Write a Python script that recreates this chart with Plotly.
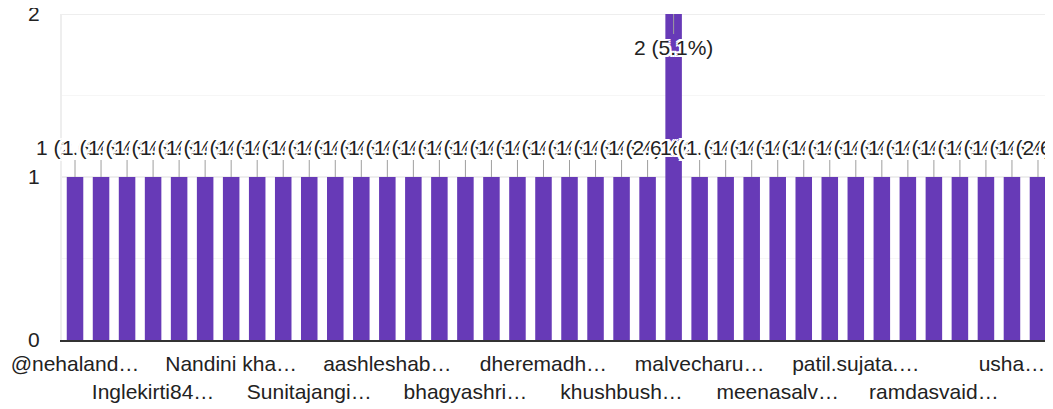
import plotly.graph_objects as go

categories = [
    "@nehaland…", "Ashwini P…", "Deepali M…", "Inglekirti84…", "Jyoti S…",
    "Kavita R…", "Nandini kha…", "Pooja D…", "Rupali G…", "Sunitajangi…",
    "Swati K…", "Vaishali T…", "aashleshab…", "anjali.p…", "archana…",
    "bhagyashri…", "chaitali…", "deepa.m…", "dheremadh…", "gauri.s…",
    "jadhav.r…", "khushbush…", "kirti.p…", "madhuri…", "malvecharu…",
    "manisha…", "mayuri…", "meenasalv…", "neha.k…", "pallavi…",
    "patil.sujata.…", "pradnya…", "priya…", "ramdasvaid…", "sarika…",
    "shital…", "usha…", "vrushali…",
]
counts = [1] * 23 + [2] + [1] * 14
y_ticks = [0, 1, 2]

total = sum(counts)
labels = [f"{v} ({v / total * 100:.1f}%)" for v in counts]

FONT = "Arial, 'Liberation Sans', sans-serif"
PURPLE = "#673ab7"
TXT = "#222222"
FS = 21

fig = go.Figure(
    go.Bar(
        x=categories,
        y=counts,
        marker=dict(color=PURPLE, line=dict(width=0)),
        hoverinfo="skip",
    )
)

halo = ", ".join(
    f"{dx}px {dy}px 0 #fff"
    for dx, dy in [(-2, -2), (-2, 0), (-2, 2), (0, -2), (0, 2), (2, -2), (2, 0), (2, 2)]
)

ymax = max(y_ticks)

# top gridline (Plotly drops the grid line sitting on the range edge)
fig.add_shape(
    type="line", xref="paper", x0=0, x1=1, yref="y", y0=ymax, y1=ymax,
    line=dict(color="#eeeeee", width=2), layer="below",
)

for c, v, t in zip(categories, counts, labels):
    down = v >= ymax
    fig.add_annotation(
        x=c, y=v, text=t, showarrow=True, arrowhead=0, arrowwidth=1,
        arrowcolor="#9e9e9e", standoff=0, ax=0, ay=33 if down else -30,
        font=dict(family=FONT, size=FS, color=TXT, shadow=halo),
    )

tick_idx = list(range(0, len(categories), 3))
tick_text = [("<br>" if (k % 2) else "") + categories[i] for k, i in enumerate(tick_idx)]

fig.update_layout(
    width=1045, height=401,
    margin=dict(l=54, r=2, t=6, b=69),
    paper_bgcolor="white", plot_bgcolor="white",
    bargap=0.365,
    showlegend=False,
    font=dict(family=FONT, size=FS, color=TXT),
    xaxis=dict(
        type="category",
        range=[-0.5, len(categories) - 0.5],
        tickmode="array",
        tickvals=[categories[i] for i in tick_idx],
        ticktext=tick_text,
        tickangle=0,
        showgrid=False,
        showline=True, linecolor="#333333", linewidth=2,
        ticks="outside", ticklen=4, tickcolor="rgba(0,0,0,0)",
        automargin=False, ticklabeloverflow="allow",
        tickfont=dict(family=FONT, size=FS, color=TXT),
    ),
    yaxis=dict(
        range=[0, ymax],
        tickmode="array", tickvals=y_ticks,
        showgrid=True, gridcolor="#eeeeee", gridwidth=2,
        minor=dict(tickvals=[0.5, 1.5], showgrid=True, gridcolor="#f6f6f6", gridwidth=1),
        zeroline=False,
        showline=True, linecolor="#eeeeee", linewidth=2, mirror=True,
        ticks="", ticklabelstandoff=16, automargin=False,
        ticklabeloverflow="allow",
        tickfont=dict(family=FONT, size=FS, color=TXT),
    ),
)

fig.write_html("out.html")
